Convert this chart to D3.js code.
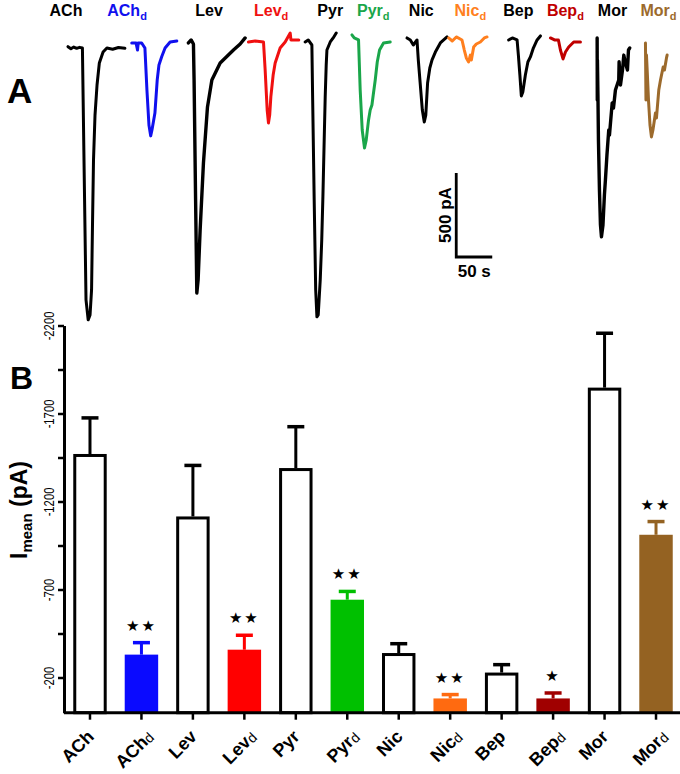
<!DOCTYPE html>
<html><head><meta charset="utf-8">
<script src="https://cdn.jsdelivr.net/npm/d3@7"></script>
<style>body{margin:0;background:#fff} svg{display:block;font-family:"Liberation Sans",Arial,sans-serif}</style>
</head><body><svg id="c" width="680" height="774"></svg>
<script>
// ---------- Panel B data ----------
const categories = ["ACh","ACh_d","Lev","Lev_d","Pyr","Pyr_d","Nic","Nic_d","Bep","Bep_d","Mor","Mor_d"];
const meanCurrent = [-1470,-330,-1115,-358,-1390,-642,-339,-81,-228,-81,-1847,-1011];
const semCurrent  = [205,68,290,82,235,47,53,22,45,31,309,75];
const significance = ["","★★","","★★","","★★","","★★","","★","","★★"];
const yTickValues = [-200,-450,-700,-950,-1200,-1450,-1700,-1950,-2200];
const yTickLabels = [-200,-700,-1200,-1700,-2200];
const barColors = ["none","#0a0aff","none","#ff0000","none","#00c000","none","#ff6a10","none","#a00000","none","#946222"];

// ---------- Panel A data (time in s, current in pA) ----------
const traceACh  = [[0,-10],[4,-22],[8,-12],[12,-20],[16,-14],[20,-18],[22,-625],[25,-1517],[28,-1636],[30.6,-1607],[32.7,-1458],[34.1,-1041],[35.4,-684],[37.5,-417],[40.3,-238],[43.5,-107],[48.7,-42],[54,-18],[62,-25],[70,-15],[79,-20]];
const traceAChd = [[0,12],[6,12],[8,-30],[9,12],[13.8,12],[18.3,-18],[21.1,-268],[23.9,-476],[26.3,-541],[28.1,-506],[32.2,-405],[35.4,-208],[37.8,-119],[41.6,-70],[46.3,-18],[53.3,18],[62.6,24]];
const traceLev  = [[0,12],[3.8,30],[7,6],[7.9,-208],[10,-922],[11.7,-1476],[13.5,-1398],[16.3,-1101],[20.9,-702],[26.5,-369],[32.6,-208],[44.1,-107],[62.6,-30],[71.9,6],[78.8,42]];
const traceLevd = [[0,18],[9.3,24],[20.9,18],[23.2,-149],[26,-387],[27.8,-464],[29.5,-417],[31.1,-309],[34.3,-179],[37.1,-107],[44,-18],[51,18],[58,71],[59,30],[69.9,30]];
const tracePyr  = [[0,18],[4.2,30],[9.3,0],[10.4,-327],[12.5,-922],[14.6,-1458],[16.3,-1618],[18.1,-1607],[20.9,-1398],[23,-1160],[24.6,-904],[26.4,-565],[27.8,-309],[29.2,-119],[30.2,-30],[34.8,18],[38.9,42],[43.1,71]];
const tracePyrd = [[0,60],[3.2,42],[9.2,30],[11.5,-268],[14.3,-506],[17.5,-613],[19.9,-565],[23.1,-446],[25.4,-387],[27.8,-357],[29.6,-298],[32.4,-208],[35.2,-101],[38.4,-30],[43.9,12],[53.2,18]];
const traceNic  = [[0,42],[4.6,30],[8.8,0],[13.9,30],[15.7,-89],[18.5,-238],[21.3,-387],[24,-458],[26.1,-417],[28.6,-226],[31.7,-137],[34.8,-89],[39.4,-42],[46.3,12],[55.6,48]];
const traceNicd = [[0,42],[5.1,24],[10.7,48],[18.6,30],[21.8,-30],[24.6,-77],[27.8,-101],[30.2,-60],[31.6,-89],[34.8,-12],[38.5,6],[44.1,18],[49.6,42],[53.4,48]];
const traceBep  = [[0,30],[5.1,42],[11.7,30],[13.5,-60],[15.6,-179],[17.6,-303],[19.7,-280],[23.2,-179],[26.7,-101],[30.2,-71],[34.3,-18],[39.5,30],[44.1,54]];
const traceBepd = [[0,42],[5.6,30],[11.1,30],[13.9,-30],[17.5,-83],[20.9,-42],[25.4,-12],[32.4,18],[41.7,18]];
const traceMor  = [[0,42],[0.2,-327],[0.4,-89],[1.1,-298],[1.8,-565],[3.2,-863],[4.6,-1071],[6,-1142],[8.1,-1071],[10.1,-893],[11.5,-803],[13.6,-655],[16.1,-506],[17.1,-536],[20.9,-345],[22.7,-375],[25.4,-268],[30,-208],[30.5,-100],[32.4,-238],[35.2,-149],[37,-60],[39.3,-107],[42.1,-149],[43.5,-30],[45.3,-18]];
const traceMord = [[0,12],[0.7,-327],[1.4,-60],[2.4,-149],[4.2,-327],[6.3,-476],[8.3,-547],[10.4,-506],[13.9,-405],[15.3,-434],[18.5,-268],[20.9,-208],[24.6,-131],[26.4,-149],[29.2,-77],[30.1,-60]];
const traceStart = [2.8,91.3,170,253.4,332.2,397.1,473.6,531.4,614.8,672.8,737.7,804.8];
const traceLabelTime = [0,84.8,198.8,285,367,426.7,493.5,561.6,628.3,693.6,759,823];
const traceColors = ["#000","#1010ee","#000","#f01010","#000","#1aa64a","#000","#ff7f1e","#000","#c00000","#000","#9c6a2c"];
const labelColors = ["#000","#1010ee","#000","#f01010","#000","#1aa64a","#000","#ff8020","#000","#c00000","#000","#9c6a2c"];
const scaleBarTime = [542, 50];      // start (s), length (s)
const scaleBarCurrent = [-762, 500];  // top (pA), length (pA)

const svg = d3.select("#c");
const font = '"Liberation Sans",Arial,sans-serif';

// ---------- Panel A ----------
const xT = d3.scaleLinear().domain([0, 50]).range([66, 102]);
const yT = d3.scaleLinear().domain([0, -500]).range([45, 129]);
const traces = [traceACh,traceAChd,traceLev,traceLevd,tracePyr,tracePyrd,traceNic,traceNicd,traceBep,traceBepd,traceMor,traceMord];
const line = d3.line().x(d => xT(d[0])).y(d => yT(d[1]));
const gA = svg.append("g");
traces.forEach((tr, i) => {
  gA.append("path")
    .attr("d", line(tr.map(p => [p[0] + traceStart[i], p[1]])))
    .attr("fill", "none").attr("stroke", traceColors[i])
    .attr("stroke-width", (i === 2 || i === 10) ? 3.4 : 3)
    .attr("stroke-linejoin", "round").attr("stroke-linecap", "round");
});
categories.forEach((c, i) => {
  const parts = c.split("_");
  const t = gA.append("text").attr("x", xT(traceLabelTime[i])).attr("y", 16)
    .attr("text-anchor", "middle").attr("font-weight", "bold").attr("font-size", 16)
    .attr("fill", labelColors[i]).attr("font-family", font);
  t.append("tspan").text(parts[0]);
  if (parts[1]) t.append("tspan").attr("font-size", 11).attr("dy", 4).text(parts[1]);
});
const sbX0 = xT(scaleBarTime[0]), sbX1 = xT(scaleBarTime[0] + scaleBarTime[1]);
const sbY0 = yT(scaleBarCurrent[0]), sbY1 = yT(scaleBarCurrent[0] - scaleBarCurrent[1]);
gA.append("path").attr("d", `M${sbX0},${sbY0}V${sbY1}H${sbX1}`)
  .attr("fill", "none").attr("stroke", "#000").attr("stroke-width", 2.8);
gA.append("text").attr("transform", `translate(${sbX0 - 5},${(sbY0 + sbY1) / 2}) rotate(-90)`)
  .attr("text-anchor", "middle").attr("font-weight", "bold").attr("font-size", 17).attr("font-family", font)
  .text(scaleBarCurrent[1] + " pA");
gA.append("text").attr("x", (sbX0 + sbX1) / 2).attr("y", sbY1 + 20)
  .attr("text-anchor", "middle").attr("font-weight", "bold").attr("font-size", 17).attr("font-family", font)
  .text(scaleBarTime[1] + " s");
svg.append("text").attr("x", 7).attr("y", 103).attr("font-weight", "bold").attr("font-size", 35).attr("font-family", font).text("A");

// ---------- Panel B ----------
const x = d3.scaleBand().domain(categories).range([64, 682]).paddingInner(0.35).paddingOuter(0.18);
const y = d3.scaleLinear().domain([0, -2200]).range([712.7, 325.5]);
const gB = svg.append("g");
const bw = x.bandwidth();

categories.forEach((c, i) => {
  const cx = x(c) + bw / 2;
  const outlined = barColors[i] === "none";
  const col = outlined ? "#000" : barColors[i];
  const errTop = y(meanCurrent[i] - semCurrent[i]);
  gB.append("line").attr("x1", cx).attr("x2", cx).attr("y1", y(meanCurrent[i])).attr("y2", errTop)
    .attr("stroke", col).attr("stroke-width", 3);
  gB.append("line").attr("x1", cx - 8.5).attr("x2", cx + 8.5).attr("y1", errTop).attr("y2", errTop)
    .attr("stroke", col).attr("stroke-width", 3.5);
  if (outlined) {
    gB.append("rect").attr("x", x(c) + 1.5).attr("width", bw - 3)
      .attr("y", y(meanCurrent[i]) + 1.5).attr("height", y(0) - y(meanCurrent[i]) - 1.5)
      .attr("fill", "#fff").attr("stroke", "#000").attr("stroke-width", 3);
  } else {
    gB.append("rect").attr("x", x(c)).attr("width", bw)
      .attr("y", y(meanCurrent[i])).attr("height", y(0) - y(meanCurrent[i]))
      .attr("fill", col);
  }
  if (significance[i]) {
    gB.append("text").attr("x", cx).attr("y", errTop - 12).attr("text-anchor", "middle")
      .attr("font-size", 15).attr("letter-spacing", 2).attr("font-family", "DejaVu Sans")
      .text(significance[i]);
  }
});

const yAxis = d3.axisLeft(y).tickValues(yTickValues).tickSize(6).tickSizeOuter(0)
  .tickFormat(d => yTickLabels.includes(d) ? d : "");
const gy = gB.append("g").attr("transform", "translate(64,0)").call(yAxis);
gy.select(".domain").attr("stroke-width", 3);
gy.selectAll(".tick line").attr("stroke-width", 2.5);
gy.selectAll(".tick text").attr("transform", "rotate(-90) scale(0.75,1)").attr("x", 0).attr("y", -10).attr("dy", 0)
  .attr("text-anchor", "middle").attr("font-size", 15).attr("font-family", font).attr("fill", "#000");

const xAxis = d3.axisBottom(x).tickSize(7).tickSizeOuter(0).tickFormat("");
const gx = gB.append("g").attr("transform", `translate(0,${y(0)})`).call(xAxis);
gx.select(".domain").attr("stroke-width", 3).attr("d", `M64,0H680`);
gx.selectAll(".tick line").attr("stroke-width", 2.5);

// x labels, rotated 45 degrees
categories.forEach((c, i) => {
  const parts = c.split("_");
  const cx = x(c) + bw / 2;
  const ax = cx + (parts[1] ? 13 : 5), ay = y(0) + 25;
  const g = gB.append("g").attr("transform", `rotate(-45 ${ax} ${ay})`);
  const t = g.append("text").attr("x", ax).attr("y", ay)
    .attr("text-anchor", "end").attr("font-weight", "bold").attr("font-size", 18).attr("font-family", font);
  t.append("tspan").text(parts[0]);
  if (parts[1]) t.append("tspan").attr("font-weight", "normal").attr("font-size", 14).attr("dy", 1).text(parts[1]);
});

const yl = svg.append("text").attr("transform", "translate(27,510) rotate(-90)")
  .attr("text-anchor", "middle").attr("font-weight", "bold").attr("font-size", 23).attr("font-family", font);
yl.append("tspan").text("I");
yl.append("tspan").attr("font-size", 15).attr("dy", 5).text("mean");
yl.append("tspan").attr("dy", -5).text(" (pA)");
svg.append("text").attr("x", 10).attr("y", 389).attr("font-weight", "bold").attr("font-size", 32).attr("font-family", font).text("B");
</script></body></html>
